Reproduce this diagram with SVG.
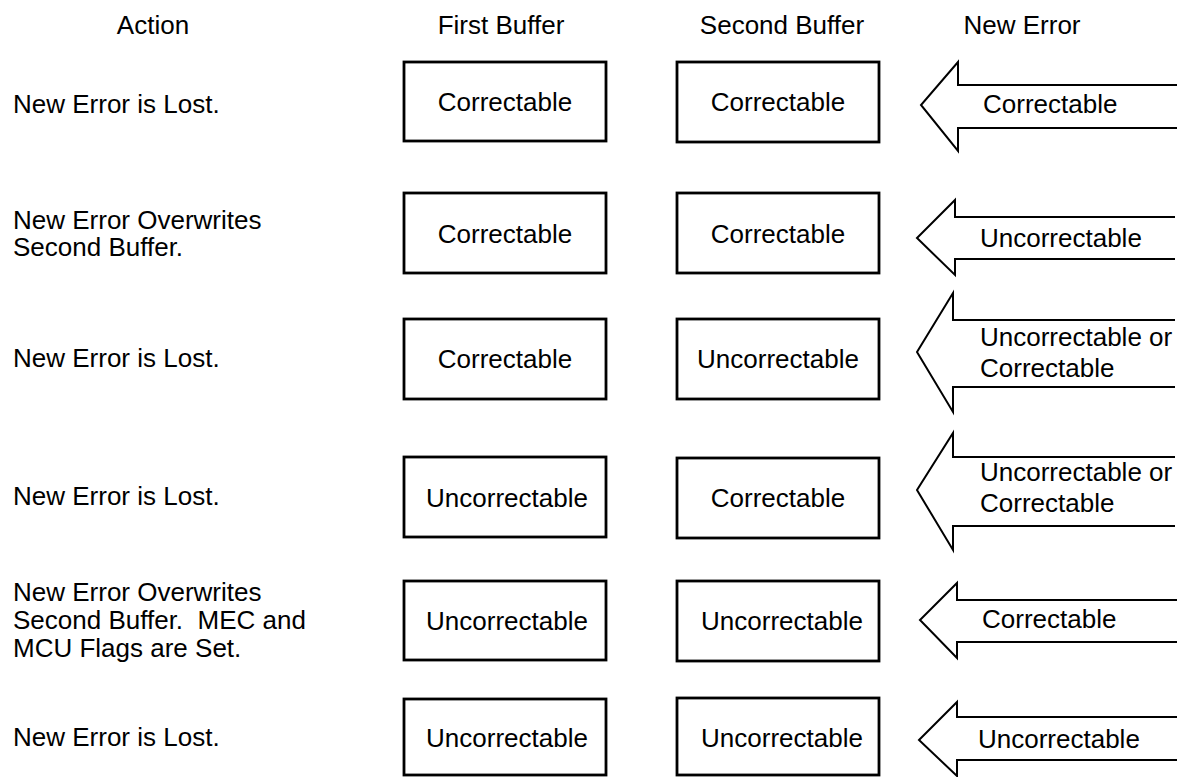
<svg xmlns="http://www.w3.org/2000/svg" width="1184" height="777" viewBox="0 0 1184 777">
<style>
text{font-family:"Liberation Sans",Arial,sans-serif;font-size:26px;fill:#000;white-space:pre}
.c{text-anchor:middle}
.box{fill:#fff;stroke:#000;stroke-width:2.8}
.arr{fill:none;stroke:#000;stroke-width:2;stroke-linejoin:miter}
</style>
<rect width="1184" height="777" fill="#fff"/>
<g id="headers">
<text x="153" y="34" class="c">Action</text>
<text x="501" y="34" class="c">First Buffer</text>
<text x="782" y="34" class="c">Second Buffer</text>
<text x="1022" y="34" class="c">New Error</text>
</g>
<g id="actions">
<text x="13" y="113">New Error is Lost.</text>
<text x="13" y="229">New Error Overwrites</text>
<text x="13" y="256">Second Buffer.</text>
<text x="13" y="367">New Error is Lost.</text>
<text x="13" y="505">New Error is Lost.</text>
<text x="13" y="601">New Error Overwrites</text>
<text x="13" y="629" xml:space="preserve">Second Buffer.  MEC and</text>
<text x="13" y="657">MCU Flags are Set.</text>
<text x="13" y="746">New Error is Lost.</text>
</g>
<g id="row1-first"><rect class="box" x="404" y="62" width="202" height="79"/><text x="505" y="111" class="c">Correctable</text></g>
<g id="row1-second"><rect class="box" x="677" y="62" width="202" height="80"/><text x="778" y="111" class="c">Correctable</text></g>
<g id="row2-first"><rect class="box" x="404" y="193" width="202" height="80"/><text x="505" y="243" class="c">Correctable</text></g>
<g id="row2-second"><rect class="box" x="677" y="193" width="202" height="80"/><text x="778" y="243" class="c">Correctable</text></g>
<g id="row3-first"><rect class="box" x="404" y="319" width="202" height="80"/><text x="505" y="368" class="c">Correctable</text></g>
<g id="row3-second"><rect class="box" x="677" y="319" width="202" height="80"/><text x="778" y="368" class="c">Uncorrectable</text></g>
<g id="row4-first"><rect class="box" x="404" y="457" width="202" height="80"/><text x="507" y="507" class="c">Uncorrectable</text></g>
<g id="row4-second"><rect class="box" x="677" y="458" width="202" height="80"/><text x="778" y="507" class="c">Correctable</text></g>
<g id="row5-first"><rect class="box" x="404" y="581" width="202" height="79"/><text x="507" y="630" class="c">Uncorrectable</text></g>
<g id="row5-second"><rect class="box" x="677" y="581" width="202" height="80"/><text x="782" y="630" class="c">Uncorrectable</text></g>
<g id="row6-first"><rect class="box" x="404" y="699" width="202" height="76"/><text x="507" y="747" class="c">Uncorrectable</text></g>
<g id="row6-second"><rect class="box" x="677" y="698" width="202" height="77"/><text x="782" y="747" class="c">Uncorrectable</text></g>
<g id="connectors">
<polyline class="arr" points="1177,85 958,85 958,62 921,105 958,151 958,128 1177,128"/>
<polyline class="arr" points="1175,217 955,217 955,200 917,238 955,275 955,259 1175,259"/>
<polyline class="arr" points="1175,320 953,320 953,293 917,352 953,412 953,387 1175,387"/>
<polyline class="arr" points="1175,457 953,457 953,433 917,490 953,550 953,526 1175,526"/>
<polyline class="arr" points="1177,600 957,600 957,583 920,620 957,658 957,642 1177,642"/>
<polyline class="arr" points="1177,717 957,717 957,702 919,740 957,776 957,760 1177,760"/>
</g>
<g id="arrow-labels">
<text x="983" y="113">Correctable</text>
<text x="980" y="247">Uncorrectable</text>
<text x="980" y="346">Uncorrectable or</text>
<text x="980" y="377">Correctable</text>
<text x="980" y="481">Uncorrectable or</text>
<text x="980" y="512">Correctable</text>
<text x="982" y="628">Correctable</text>
<text x="978" y="748">Uncorrectable</text>
</g>
</svg>
